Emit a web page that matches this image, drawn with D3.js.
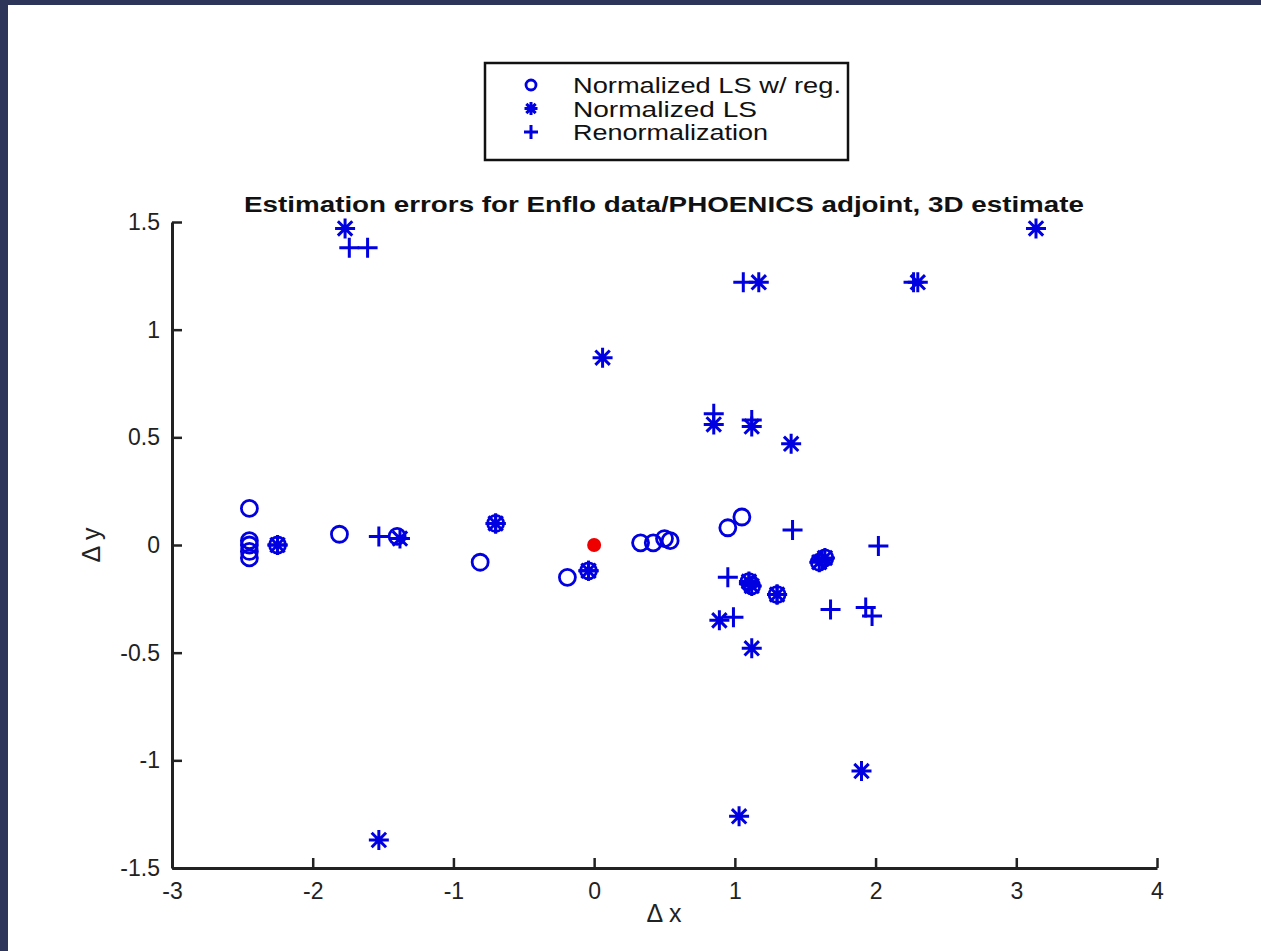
<!DOCTYPE html>
<html>
<head>
<meta charset="utf-8">
<script src="https://cdn.jsdelivr.net/npm/d3@7"></script>
<style>
  body { margin: 0; background: #2d3559; }
  svg { display: block; }
  text { font-family: "Liberation Sans", Arial, Helvetica, sans-serif; }
</style>
</head>
<body>
<div id="chart"></div>
<script>
// DATA ------------------------------------------------------------------
const xTicks = [-3, -2, -1, 0, 1, 2, 3, 4];
const yTicks = [-1.5, -1, -0.5, 0, 0.5, 1, 1.5];

// Normalized LS w/ reg. (circles)
const lsReg = [
  [-2.45, 0.17], [-2.45, 0.02], [-2.45, 0.0], [-2.45, -0.03], [-2.45, -0.06],
  [-2.25, 0.0], [-1.81, 0.05], [-1.40, 0.04], [-0.70, 0.10], [-0.81, -0.08],
  [-0.19, -0.15], [-0.04, -0.12], [0.33, 0.01], [0.42, 0.01], [0.50, 0.03],
  [0.54, 0.02], [0.95, 0.08], [1.05, 0.13], [1.10, -0.17], [1.12, -0.19],
  [1.30, -0.23], [1.60, -0.08], [1.64, -0.06]
];

// Normalized LS (asterisks)
const lsPlain = [
  [-1.77, 1.47], [3.14, 1.47], [1.17, 1.22], [2.30, 1.22], [0.06, 0.87],
  [0.85, 0.56], [1.12, 0.55], [1.40, 0.47], [-2.25, 0.0], [-1.38, 0.03],
  [-0.70, 0.10], [-0.04, -0.12], [1.10, -0.17], [1.12, -0.19], [1.30, -0.23],
  [1.60, -0.08], [1.64, -0.06], [0.89, -0.35], [1.12, -0.48], [1.90, -1.05],
  [1.03, -1.26], [-1.53, -1.37]
];

// Renormalization (plus signs)
const renorm = [
  [-1.74, 1.38], [-1.61, 1.38], [1.06, 1.22], [2.27, 1.22], [0.85, 0.61],
  [1.12, 0.58], [-1.53, 0.04], [1.41, 0.07], [2.02, -0.005], [0.95, -0.15],
  [0.99, -0.335], [1.68, -0.30], [1.93, -0.29], [1.975, -0.33],
  [-2.25, 0.0], [-0.70, 0.10], [-0.04, -0.12], [1.10, -0.18], [1.30, -0.23],
  [1.62, -0.07]
];

const origin = [[0, 0]];

const legendLabels = ["Normalized LS w/ reg.", "Normalized LS", "Renormalization"];
const legendWidths = [268, 184, 195];
const titleText = "Estimation errors for Enflo data/PHOENICS adjoint, 3D estimate";

// CHART -----------------------------------------------------------------
const W = 1261, H = 951;
const blue = "#0000e0";

const svg = d3.select("#chart").append("svg")
  .attr("width", W).attr("height", H);

// white page inside the dark frame
svg.append("rect").attr("x", 8).attr("y", 5)
  .attr("width", W - 8).attr("height", H - 5).attr("fill", "#fff");

const xScale = d3.scaleLinear().domain([-3, 4]).range([172, 1157]);
const yScale = d3.scaleLinear().domain([-1.5, 1.5]).range([868, 222]);

// MATLAB uses a plain hyphen for negatives
const fmt = d => String(d);

// axes, ticks point inward
const xAxis = d3.axisBottom(xScale).tickValues(xTicks)
  .tickSizeInner(-10).tickSizeOuter(0).tickPadding(18).tickFormat(fmt);
const yAxis = d3.axisLeft(yScale).tickValues(yTicks)
  .tickSizeInner(-10).tickSizeOuter(0).tickPadding(12).tickFormat(fmt);

const gx = svg.append("g").attr("transform", "translate(0,868)").call(xAxis);
const gy = svg.append("g").attr("transform", "translate(172,0)").call(yAxis);

[gx, gy].forEach(g => {
  g.attr("font-size", null).attr("font-family", null);
  g.select(".domain").attr("stroke", "#222").attr("stroke-width", 3);
  g.selectAll(".tick line").attr("stroke", "#222").attr("stroke-width", 2.5);
  g.selectAll(".tick text").attr("fill", "#222").style("font-size", "23px");
});
gx.selectAll(".tick text").attr("dy", "0.55em");

// markers
function circleMark(g, x, y, r = 8) {
  g.append("circle").attr("cx", x).attr("cy", y).attr("r", r)
    .attr("fill", "none").attr("stroke", blue).attr("stroke-width", 2.8);
}
function plusMark(g, x, y, s = 10) {
  g.append("path")
    .attr("d", `M${x - s},${y}H${x + s}M${x},${y - s}V${y + s}`)
    .attr("stroke", blue).attr("stroke-width", 3).attr("fill", "none");
}
function starMark(g, x, y, s = 10) {
  const d = s * 0.72;
  g.append("path")
    .attr("d", `M${x - s},${y}H${x + s}M${x},${y - s}V${y + s}` +
      `M${x - d},${y - d}L${x + d},${y + d}M${x - d},${y + d}L${x + d},${y - d}`)
    .attr("stroke", blue).attr("stroke-width", 3).attr("fill", "none");
}

const plot = svg.append("g");
lsReg.forEach(d => circleMark(plot, xScale(d[0]), yScale(d[1])));
lsPlain.forEach(d => starMark(plot, xScale(d[0]), yScale(d[1])));
renorm.forEach(d => plusMark(plot, xScale(d[0]), yScale(d[1])));

plot.selectAll(".origin").data(origin).join("circle")
  .attr("class", "origin")
  .attr("cx", d => xScale(d[0])).attr("cy", d => yScale(d[1]))
  .attr("r", 7).attr("fill", "#ee0000");

// title
svg.append("text").attr("x", 664).attr("y", 212)
  .attr("text-anchor", "middle").style("font-size", "22px")
  .style("font-weight", "bold").attr("fill", "#111")
  .attr("textLength", 840).attr("lengthAdjust", "spacingAndGlyphs")
  .text(titleText);

// axis labels
svg.append("text").attr("x", 664).attr("y", 922)
  .attr("text-anchor", "middle").style("font-size", "25px").attr("fill", "#222")
  .text("\u0394 x");
svg.append("text").attr("transform", "translate(100,545) rotate(-90)")
  .attr("text-anchor", "middle").style("font-size", "25px").attr("fill", "#222")
  .text("\u0394 y");

// legend
const legend = svg.append("g");
legend.append("rect").attr("x", 485).attr("y", 63)
  .attr("width", 363).attr("height", 97)
  .attr("fill", "#fff").attr("stroke", "#111").attr("stroke-width", 2.5);

const legendY = d3.scalePoint().domain(legendLabels).range([85, 132]);
const legendMarks = [
  (x, y) => circleMark(legend, x, y, 5),
  (x, y) => starMark(legend, x, y, 6.5),
  (x, y) => plusMark(legend, x, y, 7)
];
legendLabels.forEach((lab, i) => {
  const y = legendY(lab);
  legendMarks[i](531, y);
  legend.append("text").attr("x", 573).attr("y", y + 8)
    .style("font-size", "22px").attr("fill", "#111")
    .attr("textLength", legendWidths[i]).attr("lengthAdjust", "spacingAndGlyphs")
    .text(lab);
});
</script>
</body>
</html>
